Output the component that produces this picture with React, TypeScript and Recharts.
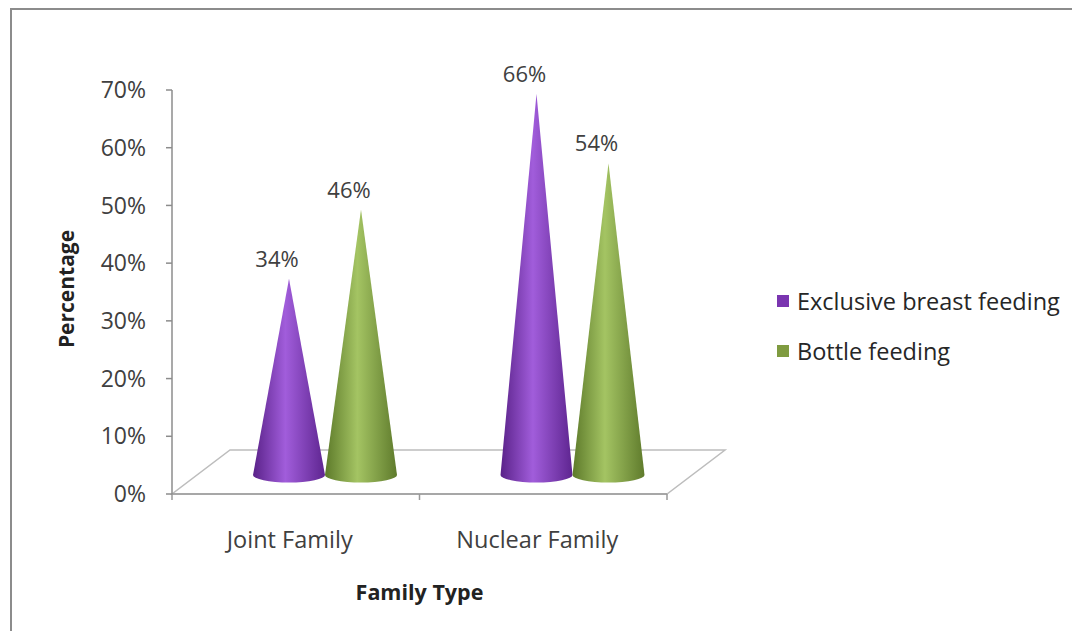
import React from "react";
import * as R from "recharts";
import { BarChart, Bar, XAxis, YAxis, LabelList } from "recharts";

const categories = ["Joint Family", "Nuclear Family"];
const exclusiveBreastFeeding = [34, 66];
const bottleFeeding = [46, 54];
const yTicks = [0, 10, 20, 30, 40, 50, 60, 70];

const seriesNames = ["Exclusive breast feeding", "Bottle feeding"];
const seriesColors = ["#7a35b0", "#7f9b40"];

const data = categories.map((name, i) => ({
  name,
  ebf: exclusiveBreastFeeding[i],
  bottle: bottleFeeding[i],
}));

const CHART_W = 1080;
const CHART_H = 639;
const MARGIN = { top: 90, right: 413, bottom: 105, left: 112 };
const Y_W = 60;
const X_H = 40;
// depth of the 3d floor, cones sit a bit in front of the middle of it
const DEPTH_X = 58;
const DEPTH_Y = 44;
const CONE_DX = 29;
const CONE_DY = 19;
const FONT = "'Open Sans', Lato, sans-serif";

const Cone = (props: any) => {
  const { x, y, width, height, gid } = props;
  if (width == null || height == null) return null;
  const cx = x + width / 2 + CONE_DX;
  const baseY = y + height - CONE_DY;
  const topY = y - CONE_DY;
  const hw = width / 2;
  const d = `M ${cx} ${topY} L ${cx - hw} ${baseY} A ${hw} 7.5 0 0 0 ${cx + hw} ${baseY} Z`;
  return <path d={d} fill={`url(#${gid})`} />;
};

const Floor = () => {
  const hook = (R as any).usePlotArea;
  const area = hook ? hook() : null;
  const left = area ? area.x : MARGIN.left + Y_W;
  const top = area ? area.y : MARGIN.top;
  const w = area ? area.width : CHART_W - MARGIN.left - Y_W - MARGIN.right;
  const h = area ? area.height : CHART_H - MARGIN.top - MARGIN.bottom - X_H;
  const bottom = top + h;
  const right = left + w;
  const pts = `${left},${bottom} ${right},${bottom} ${right + DEPTH_X},${bottom - DEPTH_Y} ${left + DEPTH_X},${bottom - DEPTH_Y}`;
  return (
    <g>
      <polygon points={pts} fill="#ffffff" stroke="#bdbdbd" strokeWidth={1.5} />
      {[left, left + w / 2, right].map((tx, i) => (
        <line key={i} x1={tx} y1={bottom} x2={tx} y2={bottom + 6} stroke="#9a9a9a" strokeWidth={1.5} />
      ))}
      <line x1={left} y1={bottom} x2={right} y2={bottom} stroke="#9a9a9a" strokeWidth={1.5} />
      <text
        x={left - 106}
        y={top + h / 2 - 3}
        transform={`rotate(-90 ${left - 106} ${top + h / 2 - 3})`}
        textAnchor="middle"
        dominantBaseline="central"
        fontFamily={FONT}
        fontWeight="bold"
        fontSize={21}
        fill="#222"
      >
        Percentage
      </text>
      <text
        x={left + w / 2}
        y={bottom + 106}
        textAnchor="middle"
        fontFamily={FONT}
        fontWeight="bold"
        fontSize={21.5}
        fill="#222"
      >
        Family Type
      </text>
    </g>
  );
};

const ValueLabel = (props: any) => {
  const { x, y, width, value } = props;
  return (
    <text
      x={x + width / 2 + CONE_DX - 12}
      y={y - CONE_DY - 12}
      textAnchor="middle"
      fontFamily={FONT}
      fontSize={22}
      fill="#404040"
    >
      {`${value}%`}
    </text>
  );
};

const CategoryTick = (props: any) => {
  const { x, y, payload } = props;
  return (
    <text x={x - 6} y={y + 46} textAnchor="middle" fontFamily={FONT} fontSize={23.5} fill="#404040">
      {payload.value}
    </text>
  );
};

export default function App() {
  return (
    <div style={{ position: "relative", width: CHART_W, height: CHART_H, margin: -8, background: "#fff", overflow: "hidden" }}>
      <div
        style={{
          position: "absolute",
          left: 10,
          top: 8,
          width: 1100,
          height: 660,
          border: "2px solid #8c8c8c",
          boxSizing: "border-box",
        }}
      />
      <div style={{ position: "absolute", left: 0, top: 0 }}>
        <BarChart width={CHART_W} height={CHART_H} data={data} margin={MARGIN} barSize={72} barGap={0}>
          <defs>
            <linearGradient id="purpleCone" x1="0" y1="0" x2="1" y2="0">
              <stop offset="0%" stopColor="#5a2289" />
              <stop offset="45%" stopColor="#a15ddb" />
              <stop offset="100%" stopColor="#5e2590" />
            </linearGradient>
            <linearGradient id="greenCone" x1="0" y1="0" x2="1" y2="0">
              <stop offset="0%" stopColor="#5d7a2a" />
              <stop offset="45%" stopColor="#a4c463" />
              <stop offset="100%" stopColor="#5f7b2c" />
            </linearGradient>
          </defs>
          <Floor />
          <XAxis dataKey="name" height={X_H} axisLine={false} tickLine={false} tick={<CategoryTick />} interval={0} />
          <YAxis
            width={Y_W}
            domain={[0, 70]}
            ticks={yTicks}
            tickFormatter={(v: number) => `${v}%`}
            axisLine={{ stroke: "#8c8c8c", strokeWidth: 1.5 }}
            tickLine={{ stroke: "#8c8c8c", strokeWidth: 1.5 }}
            tickSize={6}
            tickMargin={20}
            tick={{ fill: "#404040", fontSize: 23, fontFamily: FONT }}
          />
          <Bar dataKey="ebf" name={seriesNames[0]} isAnimationActive={false} shape={(p: any) => <Cone {...p} gid="purpleCone" />}>
            <LabelList dataKey="ebf" content={<ValueLabel />} />
          </Bar>
          <Bar dataKey="bottle" name={seriesNames[1]} isAnimationActive={false} shape={(p: any) => <Cone {...p} gid="greenCone" />}>
            <LabelList dataKey="bottle" content={<ValueLabel />} />
          </Bar>
        </BarChart>
      </div>
      <div style={{ position: "absolute", left: 777, top: 286, fontFamily: FONT, fontSize: 23.5, color: "#262626" }}>
        {seriesNames.map((n, i) => (
          <div key={n} style={{ display: "flex", alignItems: "center", height: 30, marginBottom: 20 }}>
            <span style={{ display: "inline-block", width: 12, height: 12, background: seriesColors[i], marginRight: 8 }} />
            <span>{n}</span>
          </div>
        ))}
      </div>
    </div>
  );
}
